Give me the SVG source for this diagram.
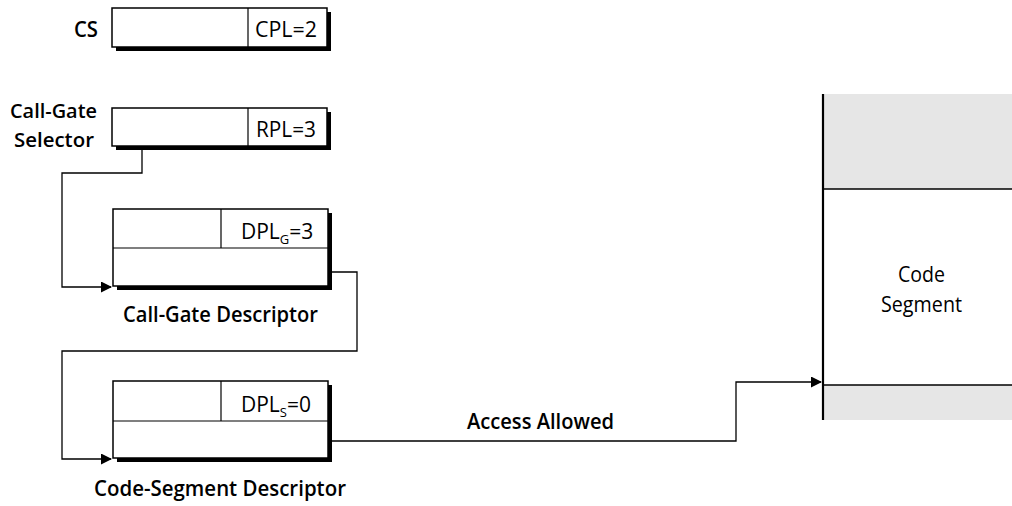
<svg xmlns="http://www.w3.org/2000/svg" width="1012" height="506" viewBox="0 0 1012 506">
<defs>
<style>
.box{fill:#fff;stroke:#000;stroke-width:1.5}
.sh{fill:#000}
.div{stroke:#000;stroke-width:1.2;fill:none}
.lbl{font-family:"Open Sans","Noto Sans",sans-serif;font-weight:600;font-size:22px;fill:#000}
.lbl2{font-family:"Open Sans","Noto Sans",sans-serif;font-weight:600;font-size:20px;fill:#000}
.fld{font-family:"Open Sans","Noto Sans",sans-serif;font-size:22px;fill:#000}
.dpl{font-family:"Open Sans","Noto Sans",sans-serif;font-size:21px;fill:#000}
.sub{font-size:13px}
.con{fill:none;stroke:#000;stroke-width:1.3}
.seg{fill:#e6e6e6}
</style>
<marker id="arr" markerWidth="11" markerHeight="11" refX="10" refY="5.5" orient="auto" markerUnits="userSpaceOnUse">
<path d="M0,0 L11,5.5 L0,11 Z" fill="#000"/>
</marker>
</defs>

<g id="cs">
<text class="lbl" x="74" y="37" textLength="24" lengthAdjust="spacingAndGlyphs">CS</text>
<rect class="sh" x="116" y="12" width="215" height="39"/>
<rect class="box" x="112" y="8" width="215" height="39"/>
<line class="div" x1="248" y1="8" x2="248" y2="47"/>
<text class="fld" x="255" y="37" textLength="62" lengthAdjust="spacingAndGlyphs">CPL=2</text>
</g>

<g id="call-gate-selector">
<text class="lbl2" x="10" y="118" textLength="87" lengthAdjust="spacingAndGlyphs">Call-Gate</text>
<text class="lbl2" x="14" y="147" textLength="80" lengthAdjust="spacingAndGlyphs">Selector</text>
<rect class="sh" x="116" y="112" width="215" height="38"/>
<rect class="box" x="112" y="108" width="215" height="38"/>
<line class="div" x1="248" y1="108" x2="248" y2="146"/>
<text class="fld" x="256" y="137" textLength="60" lengthAdjust="spacingAndGlyphs">RPL=3</text>
</g>

<g id="call-gate-descriptor">
<rect class="sh" x="117" y="213" width="215" height="77"/>
<rect class="box" x="113" y="209" width="215" height="77"/>
<line class="div" x1="113" y1="248" x2="328" y2="248"/>
<line class="div" x1="221" y1="209" x2="221" y2="248"/>
<text class="dpl" x="241" y="239">DPL<tspan class="sub" dy="5">G</tspan><tspan dy="-5">=3</tspan></text>
<text class="lbl" x="123" y="322" textLength="195" lengthAdjust="spacingAndGlyphs">Call-Gate Descriptor</text>
</g>

<g id="code-segment-descriptor">
<rect class="sh" x="117" y="385" width="215" height="77"/>
<rect class="box" x="113" y="381" width="215" height="77"/>
<line class="div" x1="113" y1="421" x2="328" y2="421"/>
<line class="div" x1="221" y1="381" x2="221" y2="421"/>
<text class="dpl" x="241" y="412">DPL<tspan class="sub" dy="5">S</tspan><tspan dy="-5">=0</tspan></text>
<text class="lbl" x="94" y="496" textLength="252" lengthAdjust="spacingAndGlyphs">Code-Segment Descriptor</text>
</g>

<g id="code-segment">
<rect class="seg" x="823" y="94" width="189" height="95"/>
<rect class="seg" x="823" y="385" width="189" height="35"/>
<line x1="823" y1="189" x2="1012" y2="189" stroke="#000" stroke-width="1.5"/>
<line x1="823" y1="385" x2="1012" y2="385" stroke="#000" stroke-width="1.5"/>
<line x1="823" y1="94" x2="823" y2="420" stroke="#000" stroke-width="2.2"/>
<text class="fld" x="898" y="282" textLength="47" lengthAdjust="spacingAndGlyphs">Code</text>
<text class="fld" x="881" y="312" textLength="81" lengthAdjust="spacingAndGlyphs">Segment</text>
</g>

<g id="connectors">
<path class="con" d="M142,150 V173 H62 V287 H111" marker-end="url(#arr)"/>
<path class="con" d="M332,272 H357 V351 H62 V459 H111" marker-end="url(#arr)"/>
<path class="con" d="M332,441 H736 V382 H821" marker-end="url(#arr)"/>
<text class="lbl" x="467" y="429" textLength="147" lengthAdjust="spacingAndGlyphs">Access Allowed</text>
</g>
</svg>
